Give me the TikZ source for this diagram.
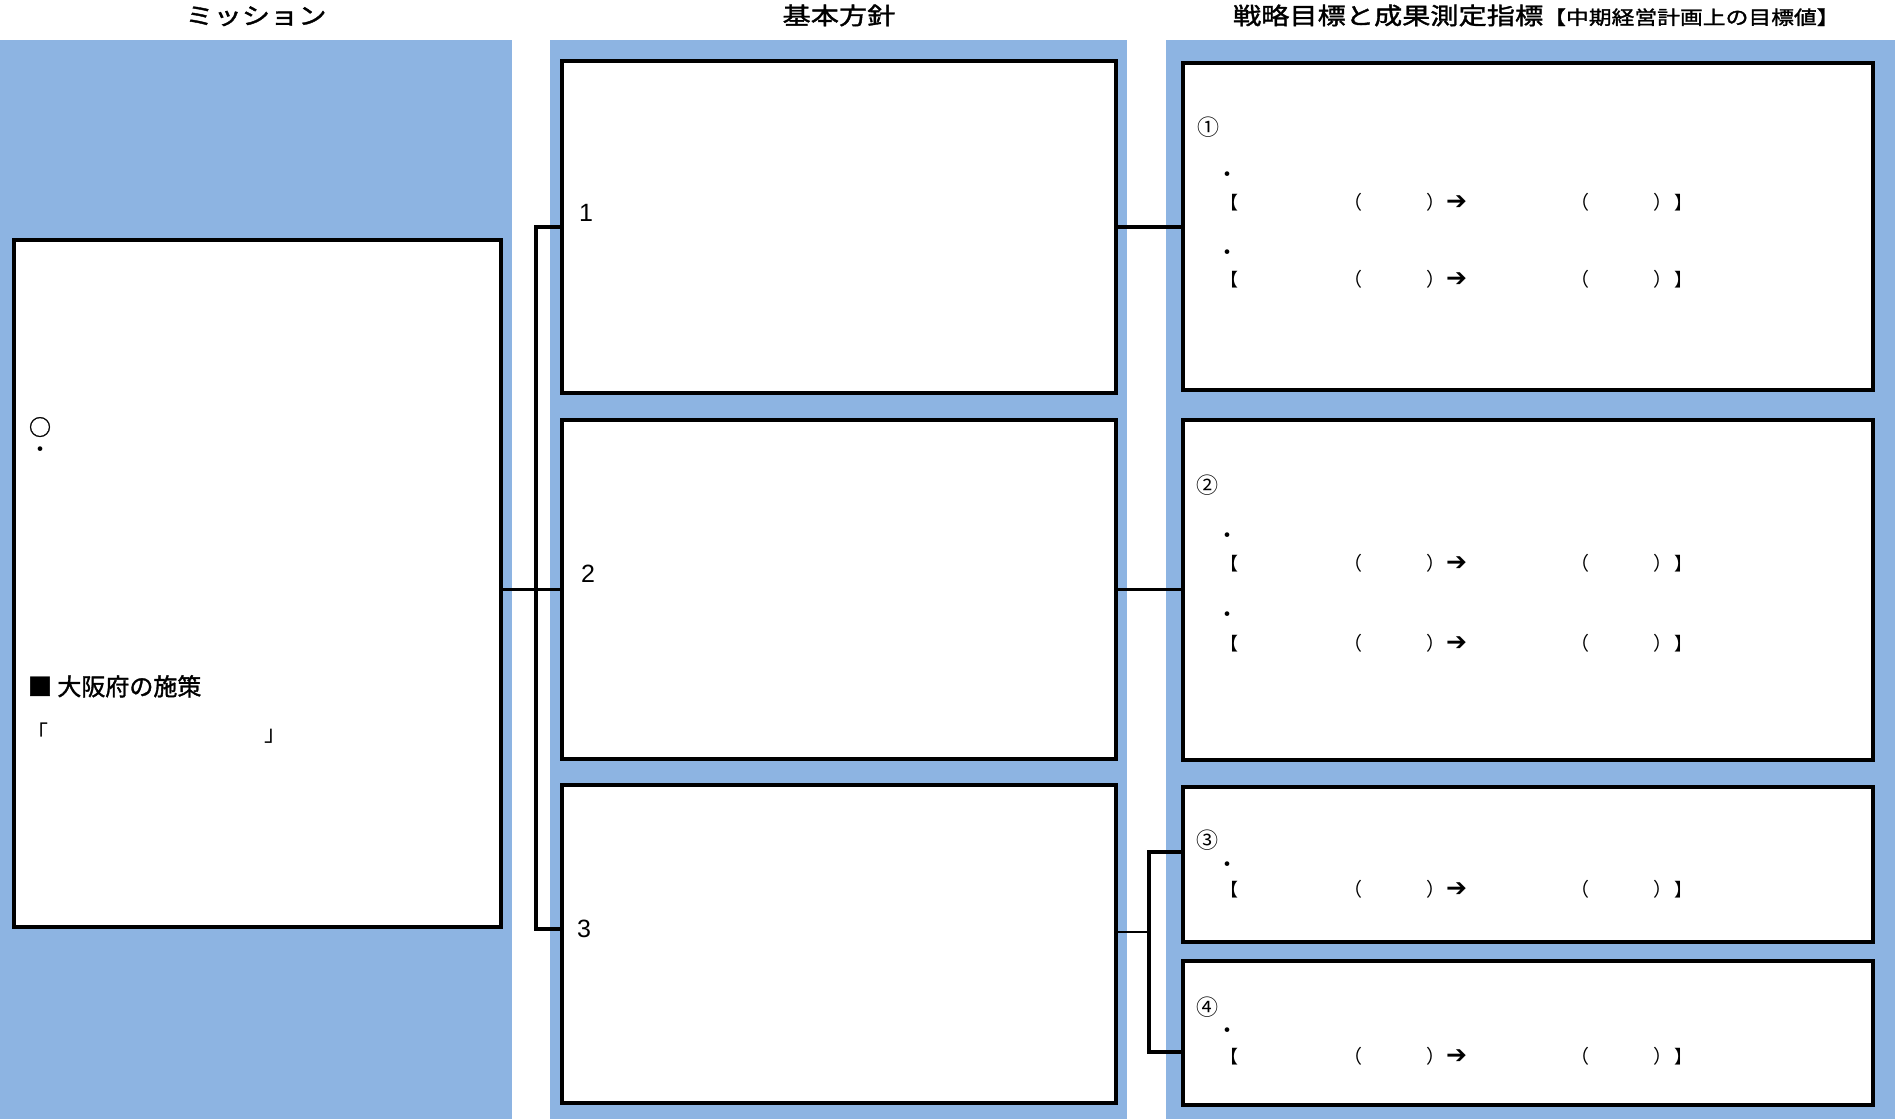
\documentclass[tikz,border=0pt]{standalone}
\usepackage{fontspec}
\newfontfamily\jp[FakeStretch=1.2]{Noto Sans CJK JP}
\newfontfamily\jph[FakeStretch=1.2,FakeBold=1.6]{Noto Sans CJK JP}
\newfontfamily\jpb[FakeBold=1.4]{Noto Sans CJK JP}
\newfontfamily\jpn{Noto Sans CJK JP}
\newfontfamily\dvs{DejaVu Sans}
\newfontfamily\lsans{Liberation Sans}
\definecolor{colbg}{RGB}{141,180,226}
\newcommand\goalrow[3]{%
  \node[g, font=\jpn\fontsize{22}{24}\selectfont] (#1d) at (1227,#2) {・};
  \node[g, font=\jpn\fontsize{18}{20}\selectfont] (#1a) at (1229,#3) {【};
  \node[g, font=\jpn\fontsize{19}{20}\selectfont] (#1b) at (1352.5,#3) {（};
  \node[g, font=\jpn\fontsize{19}{20}\selectfont] (#1c) at (1436,#3) {）};
  \node[g, font=\dvs\fontsize{25}{25}\selectfont] (#1e) at (1456.5,#3) {➔};
  \node[g, font=\jpn\fontsize{19}{20}\selectfont] (#1f) at (1580,#3) {（};
  \node[g, font=\jpn\fontsize{19}{20}\selectfont] (#1h) at (1663,#3) {）};
  \node[g, font=\jpn\fontsize{18}{20}\selectfont] (#1i) at (1683,#3) {】};
}
\begin{document}
\begin{tikzpicture}[x=1pt,y=-1pt,
  panel/.style={draw=black, fill=white, line width=3.8pt, anchor=north west, inner sep=0pt, outer sep=0pt},
  conn/.style={draw=black, line width=3.5pt},
  thinconn/.style={draw=black, line width=2.2pt},
  g/.style={inner sep=0pt, outer sep=0pt, text height=19.4pt, text depth=2.6pt},
  head/.style={g, font=\jph\fontsize{23.5}{24}\selectfont},
  digit/.style={inner sep=0pt, font=\lsans\fontsize{25}{25}\selectfont},
  circ/.style={g, font=\jpn\fontsize{22}{24}\selectfont}
]
\useasboundingbox (0,0) rectangle (1895,1119);
% column backgrounds
\fill[colbg] (0,40) rectangle (512,1119);
\fill[colbg] (550,40) rectangle (1127,1119);
\fill[colbg] (1166,40) rectangle (1895,1119);
% headings
\node[head] (h1) at (256,16) {ミッション};
\node[head] (h2) at (839,16) {基本方針};
\node[head, anchor=west] (h3) at (1233,16) {戦略目標と成果測定指標{\fontsize{19}{20}\selectfont【中期経営計画上の目標値】}};
% panels
\node[panel, minimum width=487, minimum height=687] (M) at (14,240) {};
\node[panel, minimum width=554, minimum height=332] (B1) at (562,61) {};
\node[panel, minimum width=554, minimum height=339] (B2) at (562,420) {};
\node[panel, minimum width=554, minimum height=318] (B3) at (562,785) {};
\node[panel, minimum width=690, minimum height=327] (R1) at (1183,63) {};
\node[panel, minimum width=690, minimum height=340] (R2) at (1183,420) {};
\node[panel, minimum width=690, minimum height=155] (R3) at (1183,787) {};
\node[panel, minimum width=690, minimum height=144] (R4) at (1183,961) {};
% connectors
\coordinate (Lt) at (536,227);
\coordinate (Lb) at (536,929);
\draw[conn] (B1.west) -- (Lt) -- (Lb) -- (B3.west |- Lb);
\draw[thinconn] (M.east |- B2.west) -- (B2.west);
\draw[conn] (B1.east) -- (R1.west |- B1.east);
\draw[thinconn] (B2.east) -- (R2.west |- B2.east);
\coordinate (Rm) at (1149,932);
\coordinate (Rt) at (1149,852);
\coordinate (Rb) at (1149,1052);
\draw[thinconn] (B3.east |- Rm) -- (Rm);
\draw[conn] (R3.west |- Rt) -- (Rt) -- (Rb) -- (R4.west |- Rb);
% mission texts
\node[g, font=\jpb\fontsize{22}{24}\selectfont] (mo) at (40,427) {○};
\node[g, font=\jpn\fontsize{22}{24}\selectfont] (md) at (40,449) {・};
\node[g, anchor=west, font=\jpb\fontsize{24}{24}\selectfont] (ms) at (28,687) {■ 大阪府の施策};
\node[g, anchor=west, font=\jpn\fontsize{22}{24}\selectfont] (mq) at (26,733) {「\hspace*{216.5pt}」};
% middle numbers
\node[digit] (n1) at (586,213) {1};
\node[digit] (n2) at (588,574) {2};
\node[digit] (n3) at (584,929) {3};
% right texts
\node[circ] (c1) at (1208,127) {①};
\goalrow{ra}{174}{201}
\goalrow{rb}{252}{278}
\node[circ] (c2) at (1207,485) {②};
\goalrow{rc}{535}{562}
\goalrow{rd}{614}{642}
\node[circ] (c3) at (1207,840) {③};
\goalrow{re}{864}{888}
\node[circ] (c4) at (1207,1007) {④};
\goalrow{rf}{1030}{1055}
\end{tikzpicture}
\end{document}
